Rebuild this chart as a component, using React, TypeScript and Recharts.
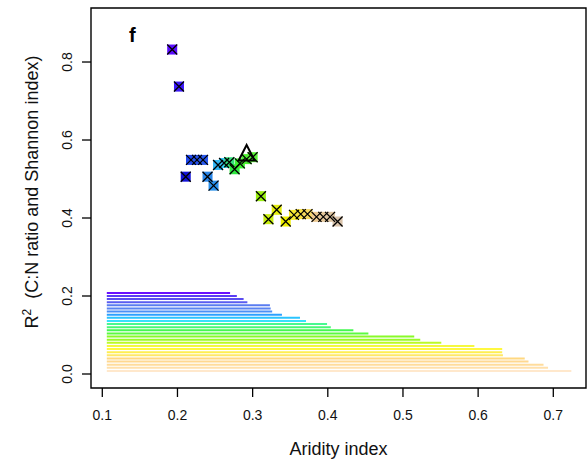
import React from "react";
import { ScatterChart, Scatter, XAxis, YAxis, ReferenceLine, ReferenceArea } from "recharts";

// Scatter points (aridity index vs R2)
const pointX = [0.193, 0.202, 0.211, 0.218, 0.226, 0.234, 0.240, 0.248, 0.254, 0.262, 0.269, 0.276, 0.283, 0.292, 0.300, 0.311, 0.321, 0.332, 0.344, 0.355, 0.364, 0.373, 0.385, 0.394, 0.403, 0.413];
const pointY = [0.832, 0.737, 0.506, 0.549, 0.549, 0.549, 0.506, 0.483, 0.536, 0.541, 0.543, 0.525, 0.540, 0.551, 0.556, 0.456, 0.397, 0.421, 0.391, 0.408, 0.410, 0.410, 0.403, 0.403, 0.403, 0.391];
const pointColors = ["#5a0cff", "#3a18f8", "#1414d8", "#2048ee", "#2450ee", "#2858ee", "#2a86e8", "#2a90ea", "#30b4f2", "#34c8f4", "#34e07a", "#30e840", "#3ef030", "#4cf030", "#5cf038", "#98ee10", "#c8ee10", "#e4ee10", "#eeee00", "#f8ea30", "#f8e040", "#f6d860", "#ecc890", "#e6c89a", "#e0c6a2", "#d8c2aa"];

// Highlighted point (open triangle)
const highlightX = [0.292];
const highlightY = [0.5615];

// Horizontal colour bars (start, end on aridity index, level)
const barStart = 0.106;
const barEnd = [0.270, 0.279, 0.288, 0.293, 0.323, 0.324, 0.326, 0.339, 0.363, 0.371, 0.399, 0.404, 0.434, 0.454, 0.515, 0.523, 0.551, 0.595, 0.632, 0.632, 0.633, 0.662, 0.667, 0.687, 0.693, 0.724];
const barLevel = [0.208, 0.200, 0.192, 0.184, 0.176, 0.168, 0.160, 0.152, 0.144, 0.136, 0.128, 0.120, 0.112, 0.104, 0.096, 0.088, 0.080, 0.072, 0.064, 0.056, 0.048, 0.040, 0.032, 0.024, 0.016, 0.008];
const barColors = ["#6a10ff", "#5a3cf4", "#5a4cf0", "#5a5cf0", "#5a7cf0", "#5a84f2", "#4a90f6", "#2aa0ff", "#2ac4ff", "#38e0ff", "#48f890", "#48f878", "#44f850", "#5cfa40", "#88fa28", "#98fa28", "#bcfa28", "#f4f840", "#fff840", "#ffee50", "#ffe868", "#ffd880", "#ffd890", "#ffdc9c", "#ffe0ac", "#ffe8cc"];

const xTicks = [0.1, 0.2, 0.3, 0.4, 0.5, 0.6, 0.7];
const yTicks = [0.0, 0.2, 0.4, 0.6, 0.8];

const X_DOMAIN: [number, number] = [0.08497, 0.7435];
const Y_DOMAIN: [number, number] = [-0.0359, 0.9385];

const FONT = "'Liberation Sans', Arial, sans-serif";

const points = pointX.map((x, i) => ({ x, y: pointY[i], color: pointColors[i] }));
const highlight = highlightX.map((x, i) => ({ x, y: highlightY[i] }));

const SquareShape = (props: any) => {
  const { cx, cy, payload } = props;
  return <rect x={cx - 5} y={cy - 5} width={10} height={10} fill={payload.color} />;
};

const CrossShape = (props: any) => {
  const { cx, cy } = props;
  return (
    <path
      d={`M${cx - 5},${cy - 5}L${cx + 5},${cy + 5}M${cx + 5},${cy - 5}L${cx - 5},${cy + 5}`}
      stroke="#000"
      strokeWidth={1.3}
      fill="none"
    />
  );
};

const TriangleShape = (props: any) => {
  const { cx, cy } = props;
  return (
    <path
      d={`M${cx},${cy - 10}L${cx + 8},${cy + 5.5}L${cx - 8},${cy + 5.5}Z`}
      stroke="#000"
      strokeWidth={2}
      strokeLinejoin="miter"
      fill="none"
    />
  );
};

const YTick = (props: any) => {
  const { x, y, payload } = props;
  return (
    <text
      x={x}
      y={y}
      transform={`rotate(-90, ${x}, ${y})`}
      textAnchor="middle"
      fontSize={14}
      fontFamily={FONT}
      fill="#111"
    >
      {Number(payload.value).toFixed(1)}
    </text>
  );
};

const XTitle = () => (
  <g>
    <text x={338.5} y={455} textAnchor="middle" fontSize={18} fontFamily={FONT} fill="#111">
      Aridity index
    </text>
    <text x={129} y={42} fontSize={20} fontWeight="bold" fontFamily={FONT} fill="#000">
      f
    </text>
  </g>
);

const YTitle = () => (
  <text
    x={38}
    y={192}
    transform="rotate(-90, 38, 192)"
    textAnchor="middle"
    fontSize={18}
    fontFamily={FONT}
    fill="#111"
    style={{ whiteSpace: "pre" }}
  >
    R<tspan fontSize={12} dy={-7}>2</tspan>
    <tspan dy={7}>{"  (C:N ratio and Shannon index)"}</tspan>
  </text>
);

export default function App() {
  return (
    <div style={{ position: "absolute", left: 0, top: 0, width: 588, height: 466, background: "#fff" }}>
      <ScatterChart width={588} height={466} margin={{ top: 8, right: 2, bottom: 0, left: 0 }}>
        <XAxis
          type="number"
          dataKey="x"
          domain={X_DOMAIN}
          allowDataOverflow
          ticks={xTicks}
          tickFormatter={(v: number) => v.toFixed(1)}
          height={78}
          axisLine={false}
          tickLine={{ stroke: "#000", strokeWidth: 1.3 }}
          tickSize={9}
          tickMargin={13}
          tick={{ fontSize: 14, fontFamily: FONT, fill: "#111" }}
          label={{ content: () => <XTitle /> }}
        />
        <YAxis
          type="number"
          dataKey="y"
          domain={Y_DOMAIN}
          allowDataOverflow
          ticks={yTicks}
          width={91}
          axisLine={false}
          tickLine={{ stroke: "#000", strokeWidth: 1.3 }}
          tickSize={9}
          tickMargin={10}
          tick={<YTick />}
          label={{ content: () => <YTitle /> }}
        />
        <ReferenceArea
          x1={X_DOMAIN[0]}
          x2={X_DOMAIN[1]}
          y1={Y_DOMAIN[0]}
          y2={Y_DOMAIN[1]}
          fill="none"
          stroke="#000"
          strokeWidth={1.4}
          ifOverflow="visible"
        />
        {barEnd.map((end, i) => (
          <ReferenceLine
            key={i}
            segment={[
              { x: barStart, y: barLevel[i] },
              { x: end, y: barLevel[i] },
            ]}
            stroke={barColors[i]}
            strokeWidth={2}
            ifOverflow="visible"
          />
        ))}
        <Scatter data={points} shape={<SquareShape />} isAnimationActive={false} />
        <Scatter data={points} shape={<CrossShape />} isAnimationActive={false} />
        <Scatter data={highlight} shape={<TriangleShape />} isAnimationActive={false} />
      </ScatterChart>
    </div>
  );
}
